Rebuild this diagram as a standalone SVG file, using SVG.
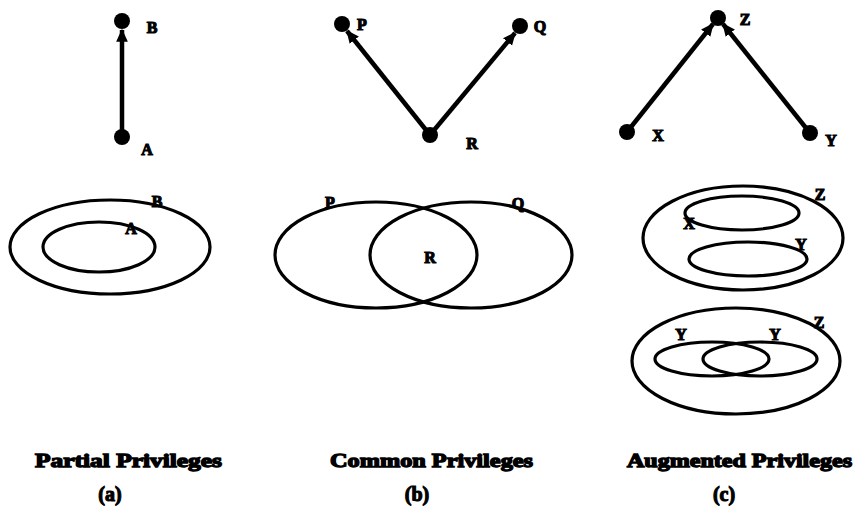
<svg xmlns="http://www.w3.org/2000/svg" width="853" height="506" viewBox="0 0 853 506">
<style>
.bg{fill:#fff}
.node{fill:#000}
.edge{stroke:#000;stroke-width:4.5;fill:none}
.set{fill:none;stroke:#000;stroke-width:3.2}
.lbl{font-family:"Liberation Serif",serif;font-weight:bold;font-size:16px;fill:#000;stroke:#000;stroke-width:1.1;text-anchor:middle;dominant-baseline:central}
.cap{font-family:"Liberation Serif",serif;font-weight:bold;font-size:19px;fill:#000;stroke:#000;stroke-width:1.3}
.sub{font-family:"Liberation Serif",serif;font-weight:bold;font-size:20px;fill:#000;stroke:#000;stroke-width:1.1;text-anchor:middle}
</style>
<defs>
<marker id="ah" viewBox="0 0 10 10" refX="9" refY="5" markerWidth="13" markerHeight="13" markerUnits="userSpaceOnUse" orient="auto">
<path d="M0,0.5 L10,5 L0,9.5 z" fill="#000"/>
</marker>
</defs>
<rect class="bg" x="0" y="0" width="853" height="506"/>

<g id="connectors">
<line class="edge" x1="122" y1="137" x2="122" y2="30" marker-end="url(#ah)"/>
<line class="edge" x1="430" y1="135" x2="347" y2="31" marker-end="url(#ah)"/>
<line class="edge" x1="430" y1="135" x2="515" y2="33" marker-end="url(#ah)"/>
<line class="edge" x1="627" y1="132" x2="713" y2="24" marker-end="url(#ah)"/>
<line class="edge" x1="810" y1="133" x2="723" y2="24" marker-end="url(#ah)"/>
</g>

<g id="node-B"><circle class="node" cx="122" cy="21" r="8"/><text class="lbl" x="152" y="27">B</text></g>
<g id="node-A"><circle class="node" cx="122" cy="137" r="8"/><text class="lbl" x="147" y="149">A</text></g>
<g id="node-P"><circle class="node" cx="342" cy="24" r="8"/><text class="lbl" x="362" y="24">P</text></g>
<g id="node-Q"><circle class="node" cx="520" cy="26" r="8"/><text class="lbl" x="540" y="26">Q</text></g>
<g id="node-R"><circle class="node" cx="430" cy="135" r="8"/><text class="lbl" x="472" y="143">R</text></g>
<g id="node-Z"><circle class="node" cx="718" cy="18" r="8"/><text class="lbl" x="745" y="19">Z</text></g>
<g id="node-X"><circle class="node" cx="627" cy="132" r="8"/><text class="lbl" x="658" y="135">X</text></g>
<g id="node-Y"><circle class="node" cx="810" cy="133" r="8"/><text class="lbl" x="831" y="140">Y</text></g>

<g id="venn-a">
<ellipse class="set" cx="110" cy="247" rx="100" ry="47"/>
<ellipse class="set" cx="99" cy="247" rx="56" ry="25"/>
<text class="lbl" x="157" y="201">B</text>
<text class="lbl" x="131" y="228">A</text>
</g>

<g id="venn-b">
<ellipse class="set" cx="376" cy="255" rx="101" ry="53"/>
<ellipse class="set" cx="471" cy="255" rx="101" ry="53"/>
<text class="lbl" x="330" y="202">P</text>
<text class="lbl" x="518" y="203">Q</text>
<text class="lbl" x="430" y="257">R</text>
</g>

<g id="venn-c1">
<ellipse class="set" cx="743" cy="238" rx="100" ry="52"/>
<ellipse class="set" cx="742" cy="213" rx="57" ry="17"/>
<ellipse class="set" cx="748" cy="259" rx="59" ry="17"/>
<text class="lbl" x="820" y="194">Z</text>
<text class="lbl" x="689" y="223">X</text>
<text class="lbl" x="801" y="244">Y</text>
</g>

<g id="venn-c2">
<ellipse class="set" cx="736" cy="361" rx="104" ry="53"/>
<ellipse class="set" cx="712" cy="359" rx="57" ry="17"/>
<ellipse class="set" cx="760" cy="359" rx="57" ry="17"/>
<text class="lbl" x="819" y="322">Z</text>
<text class="lbl" x="681" y="334">Y</text>
<text class="lbl" x="775" y="334">Y</text>
</g>

<g id="captions">
<text class="cap" x="35" y="467" textLength="187" lengthAdjust="spacingAndGlyphs">Partial Privileges</text>
<text class="cap" x="330" y="467" textLength="203" lengthAdjust="spacingAndGlyphs">Common Privileges</text>
<text class="cap" x="627" y="467" textLength="225" lengthAdjust="spacingAndGlyphs">Augmented Privileges</text>
<text class="sub" x="110" y="501">(a)</text>
<text class="sub" x="417" y="501">(b)</text>
<text class="sub" x="724" y="501">(c)</text>
</g>
</svg>
